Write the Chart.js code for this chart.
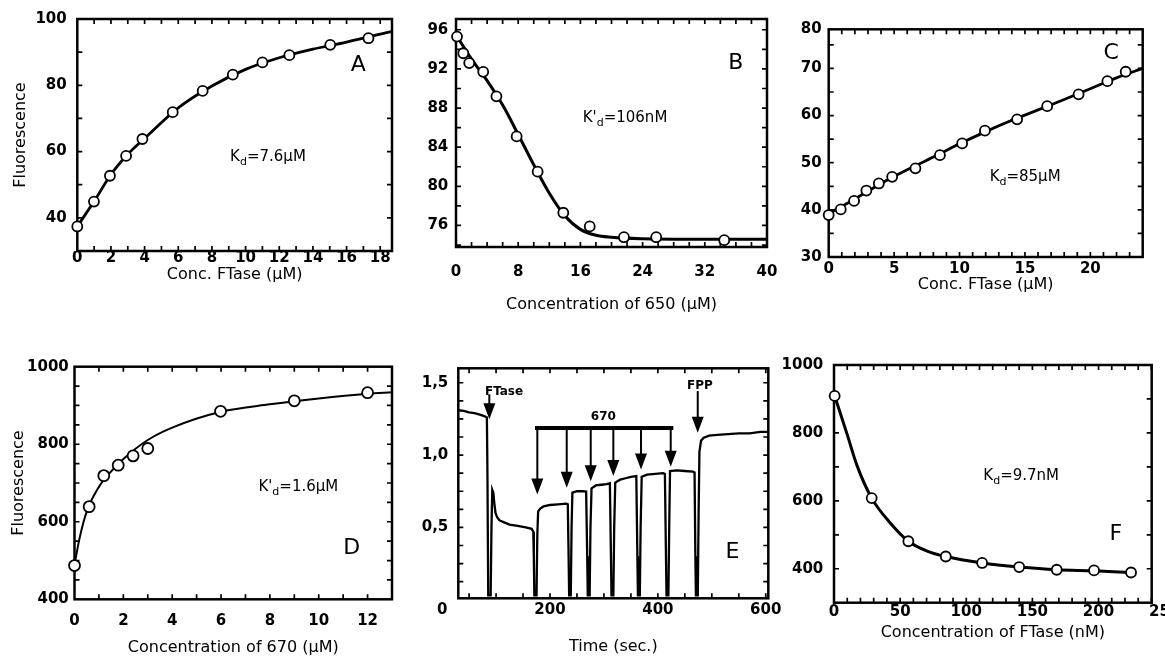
<!DOCTYPE html>
<html>
<head>
<meta charset="utf-8">
<script src="https://cdn.jsdelivr.net/npm/chart.js@4.4.1/dist/chart.umd.min.js"></script>
<style>
  html, body { margin: 0; padding: 0; background: #fff; overflow: hidden; }
  canvas { position: absolute; left: 0; top: 0; }
</style>
</head>
<body>
<canvas id="panelA" width="1165" height="656"></canvas>
<canvas id="panelB" width="1165" height="656"></canvas>
<canvas id="panelC" width="1165" height="656"></canvas>
<canvas id="panelD" width="1165" height="656"></canvas>
<canvas id="panelE" width="1165" height="656"></canvas>
<canvas id="panelF" width="1165" height="656"></canvas>
<script>
// A: FTase titration
const aConc = [0, 0.99, 1.94, 2.9, 3.87, 5.67, 7.45, 9.24, 11.0, 12.6, 15.03, 17.3];
const aFluor = [37.4, 44.9, 52.7, 58.7, 63.8, 71.9, 78.3, 83.2, 86.9, 89.1, 92.2, 94.2];
const aFitConc = [0, 1, 2, 3, 4, 6, 8, 10, 12, 14, 16, 18.7];
const aFitFluor = [37.4, 45.0, 53.1, 59.2, 64.0, 73.2, 79.8, 84.8, 88.3, 90.9, 93.05, 96.3];

// B: displacement by 650
const bConc = [0.13, 0.94, 1.7, 3.5, 5.2, 7.8, 10.5, 13.8, 17.2, 21.6, 25.75, 34.5];
const bFluor = [95.3, 93.6, 92.6, 91.7, 89.2, 85.1, 81.5, 77.3, 75.9, 74.8, 74.8, 74.5];
const bFitConc = [0, 2, 4, 6, 8, 10, 12, 14, 16, 18, 20, 24, 30, 40];
const bFitFluor = [95.5, 93.0, 90.8, 88.3, 85.3, 82.2, 79.3, 77.0, 75.6, 75.0, 74.8, 74.65, 74.6, 74.6];

// C: FTase titration, weak binder
const cConc = [0, 0.92, 1.94, 2.88, 3.83, 4.85, 6.63, 8.5, 10.2, 11.94, 14.4, 16.7, 19.1, 21.3, 22.7];
const cFluor = [38.9, 40.1, 41.9, 44.1, 45.6, 47.0, 48.8, 51.6, 54.1, 56.8, 59.2, 62.0, 64.5, 67.3, 69.3];
const cFitConc = [0, 2, 4, 6, 8, 10, 12, 14, 16, 18, 20, 22, 24];
const cFitFluor = [39.2, 42.3, 45.6, 48.5, 51.2, 54.0, 56.6, 59.0, 61.2, 63.4, 65.7, 68.0, 70.0];

// D: titration with 670
const dConc = [0, 0.6, 1.2, 1.79, 2.4, 3.0, 5.98, 9.0, 12.0];
const dFluor = [487, 639, 719, 746, 770, 789, 885, 912, 933];
const dFitConc = [0, 0.22, 0.5, 1, 1.5, 2, 3, 4, 6, 8, 10, 12, 13];
const dFitFluor = [490, 561, 626, 690, 730, 762, 811, 843, 884, 903, 918, 930, 934];

// E: time trace (each addition gives a short dip to the baseline)
const eTime = [30, 40, 50, 60, 70, 78, 83,
  84, 85.5, 90, 91.5, 93, 95, 97, 99, 102, 106, 115, 125, 140, 155, 166, 169,
  170, 171, 175, 176.5, 178, 182, 188, 200, 215, 230, 233,
  234.5, 235.5, 238.5, 240, 241.5, 250, 260, 267,
  269, 270, 273.5, 275, 277, 285, 295, 305, 311,
  313, 314, 317.5, 319, 321, 330, 340, 350, 360,
  362, 363, 366.5, 368, 370, 380, 395, 410, 413,
  415, 416, 419.5, 421, 422.5, 435, 450, 465, 468,
  469.5, 470.5, 474, 475.5, 477, 480, 485, 495, 510, 530, 550, 570, 590, 604.7];
const eSignal = [1.31, 1.305, 1.295, 1.29, 1.28, 1.27, 1.26,
  0.88, 0.03, 0.03, 0.5, 0.76, 0.74, 0.66, 0.6, 0.57, 0.55, 0.535, 0.52, 0.51, 0.5, 0.49, 0.47,
  0.3, 0.03, 0.03, 0.45, 0.61, 0.63, 0.645, 0.655, 0.66, 0.665, 0.66,
  0.3, 0.03, 0.03, 0.5, 0.74, 0.75, 0.75, 0.748,
  0.3, 0.03, 0.03, 0.5, 0.77, 0.79, 0.795, 0.8, 0.805,
  0.3, 0.03, 0.03, 0.5, 0.81, 0.83, 0.84, 0.85, 0.855,
  0.3, 0.03, 0.03, 0.5, 0.85, 0.865, 0.87, 0.875, 0.87,
  0.3, 0.03, 0.03, 0.5, 0.89, 0.895, 0.89, 0.885, 0.88,
  0.3, 0.03, 0.03, 0.6, 1.02, 1.1, 1.12, 1.135, 1.14, 1.145, 1.15, 1.15, 1.16, 1.16];

// F: FTase titration, tight binder
const fConc = [0.5, 28.5, 56.2, 84.5, 112, 140, 168.4, 196.6, 224.6];
const fFluor = [909, 608, 481, 436, 417, 405, 397, 395, 389];
const fFitConc = [0.5, 10, 17.5, 28.5, 42.7, 56.2, 70.4, 84.5, 112, 140, 168.4, 196.6, 224.6];
const fFitFluor = [909, 795, 703, 608, 534, 481, 452, 436, 417, 405, 397, 394, 389];

// tick labels
const aLabelsX = [0, 2, 4, 6, 8, 10, 12, 14, 16, 18];
const aLabelsY = [40, 60, 80, 100];
const bLabelsX = [0, 8, 16, 24, 32, 40];
const bLabelsY = [76, 80, 84, 88, 92, 96];
const cLabelsX = [0, 5, 10, 15, 20];
const cLabelsY = ['30', '40', '50', '60', '70', '80'];
const dLabelsX = [0, 2, 4, 6, 8, 10, 12];
const dLabelsY = [400, 600, 800, 1000];
const eLabelsX = [0, 200, 400, 600];
const eLabelsY = ['0,5', '1,0', '1,5'];
const fLabelsX = [0, 50, 100, 150, 200, 250];
const fLabelsY = [400, 600, 800, 1000];

const W = 1165, H = 656;
const FONT = '"DejaVu Sans", sans-serif';

function steps(from, to, step) {
  const out = [];
  for (let v = from; v <= to + step / 1000; v += step) out.push(+v.toFixed(4));
  return out;
}

function xy(xs, ys) {
  return xs.map((x, i) => ({ x: x, y: ys[i] }));
}

function axis(ax, dir, box) {
  return {
    type: 'linear',
    position: dir === 'x' ? 'bottom' : 'left',
    min: ax.min,
    max: ax.max,
    grid: { display: false, drawTicks: false },
    border: { display: false },
    ticks: {
      autoSkip: false, maxRotation: 0, minRotation: 0,
      padding: ax.pad, color: '#000',
      font: { family: FONT, size: 15, weight: 'bold' },
      callback: (v) => {
        const i = ax.at.findIndex(a => Math.abs(a - v) < 1e-6);
        return i < 0 ? '' : String(ax.text[i]);
      }
    },
    title: ax.title ? {
      display: true, text: ax.title, color: '#000',
      font: { family: FONT, size: 16 },
      padding: dir === 'x' ? { top: 0, bottom: ax.titlePad } : { top: ax.titlePad, bottom: 0 }
    } : { display: false },
    afterBuildTicks: (s) => { s.ticks = ax.ticks.map(v => ({ value: v })); },
    afterFit: (s) => {
      if (dir === 'x') s.height = H - box.b; else s.width = box.l;
      s.paddingLeft = 0; s.paddingRight = 0; s.paddingTop = 0; s.paddingBottom = 0;
    }
  };
}

function drawNote(ctx, chart, n) {
  const px = chart.scales.x.getPixelForValue(n.x);
  const py = chart.scales.y.getPixelForValue(n.y);
  const weight = n.bold ? 'bold ' : '';
  const subSize = Math.round(n.size * 0.75);
  let total = 0;
  for (const [s, sub] of n.parts) {
    ctx.font = weight + (sub ? subSize : n.size) + 'px ' + FONT;
    total += ctx.measureText(s).width;
  }
  let cx = n.align === 'center' ? px - total / 2 : px;
  ctx.textAlign = 'left';
  ctx.textBaseline = 'middle';
  ctx.fillStyle = '#000';
  for (const [s, sub] of n.parts) {
    ctx.font = weight + (sub ? subSize : n.size) + 'px ' + FONT;
    ctx.fillText(s, cx, sub ? py + n.size * 0.35 : py);
    cx += ctx.measureText(s).width;
  }
}

// box frame, inward ticks on all sides, then labels and arrows on top
function framePlugin(notes) {
  return {
    id: 'frame',
    beforeDatasetsDraw(chart) {
      const { ctx, chartArea: a, scales: { x, y } } = chart;
      const len = 5;
      ctx.save();
      ctx.strokeStyle = '#000';
      ctx.lineWidth = 1.7;
      ctx.beginPath();
      for (const t of x.ticks) {
        if (t.value <= x.min || t.value >= x.max) continue;
        const p = x.getPixelForValue(t.value);
        ctx.moveTo(p, a.bottom); ctx.lineTo(p, a.bottom - len);
        ctx.moveTo(p, a.top); ctx.lineTo(p, a.top + len);
      }
      for (const t of y.ticks) {
        if (t.value <= y.min || t.value >= y.max) continue;
        const p = y.getPixelForValue(t.value);
        ctx.moveTo(a.left, p); ctx.lineTo(a.left + len, p);
        ctx.moveTo(a.right, p); ctx.lineTo(a.right - len, p);
      }
      ctx.stroke();
      ctx.lineWidth = 2.5;
      ctx.strokeRect(a.left, a.top, a.right - a.left, a.bottom - a.top);
      ctx.restore();
    },
    afterDatasetsDraw(chart) {
      const { ctx, scales: { x, y } } = chart;
      ctx.save();
      ctx.strokeStyle = '#000';
      ctx.fillStyle = '#000';
      for (const b of notes.bars || []) {
        ctx.lineWidth = 4;
        ctx.beginPath();
        ctx.moveTo(x.getPixelForValue(b.x1), y.getPixelForValue(b.y));
        ctx.lineTo(x.getPixelForValue(b.x2), y.getPixelForValue(b.y));
        ctx.stroke();
      }
      for (const ar of notes.arrows || []) {
        const px = x.getPixelForValue(ar.x);
        const p0 = y.getPixelForValue(ar.from);
        const p1 = y.getPixelForValue(ar.to);
        ctx.lineWidth = 2;
        ctx.beginPath();
        ctx.moveTo(px, p0);
        ctx.lineTo(px, p1 - 10);
        ctx.stroke();
        ctx.beginPath();
        ctx.moveTo(px - 6, p1 - 16);
        ctx.lineTo(px + 6, p1 - 16);
        ctx.lineTo(px, p1);
        ctx.closePath();
        ctx.fill();
      }
      for (const n of notes.texts || []) drawNote(ctx, chart, n);
      ctx.restore();
    }
  };
}

function panel(id, box, xAx, yAx, datasets, notes) {
  new Chart(document.getElementById(id), {
    type: 'scatter',
    data: { datasets: datasets },
    options: {
      responsive: false,
      animation: false,
      devicePixelRatio: 1,
      events: [],
      layout: { padding: { left: 0, top: box.t, right: W - box.r, bottom: 0 } },
      plugins: { legend: { display: false }, tooltip: { enabled: false } },
      scales: { x: axis(xAx, 'x', box), y: axis(yAx, 'y', box) }
    },
    plugins: [framePlugin(notes)]
  });
}

function points(xs, ys, r) {
  return {
    data: xy(xs, ys), showLine: false, order: 0, clip: false,
    pointRadius: r, pointBackgroundColor: '#fff',
    pointBorderColor: '#000', pointBorderWidth: 1.8
  };
}

function curve(xs, ys, w) {
  return {
    data: xy(xs, ys), showLine: true, order: 1,
    borderColor: '#000', borderWidth: w, pointRadius: 0,
    cubicInterpolationMode: 'monotone'
  };
}

function kd(x, y, parts) {
  return { x: x, y: y, parts: parts, size: 15, align: 'left' };
}

function letter(x, y, t) {
  return { x: x, y: y, parts: [[t]], size: 22, align: 'center' };
}

panel('panelA', { l: 77.3, t: 19, r: 392, b: 251 },
  { min: 0, max: 18.7, ticks: steps(0, 18, 1), at: aLabelsX, text: aLabelsX, pad: -2,
    title: 'Conc. FTase (\u00b5M)', titlePad: 372 },
  { min: 30, max: 100, ticks: steps(30, 100, 10), at: aLabelsY, text: aLabelsY, pad: 10.6,
    title: 'Fluorescence', titlePad: 11.4 },
  [points(aConc, aFluor, 5), curve(aFitConc, aFitFluor, 2.8)],
  { texts: [kd(9.08, 58.4, [['K'], ['d', true], ['=7.6\u00b5M']]), letter(16.7, 86, 'A')] });

panel('panelB', { l: 456, t: 19, r: 767, b: 247 },
  { min: 0, max: 40, ticks: steps(0, 40, 2), at: bLabelsX, text: bLabelsX, pad: 16.4,
    title: 'Concentration of 650 (\u00b5M)', titlePad: 341.4 },
  { min: 73.8, max: 97.1, ticks: steps(74, 96, 2), at: bLabelsY, text: bLabelsY, pad: 7.7 },
  [points(bConc, bFluor, 5), curve(bFitConc, bFitFluor, 3)],
  { texts: [kd(16.3, 87, [["K'"], ['d', true], ['=106nM']]), letter(36, 92.6, 'B')] });

panel('panelC', { l: 828.7, t: 29.3, r: 1142.7, b: 257 },
  { min: 0, max: 24, ticks: steps(0, 24, 1), at: cLabelsX, text: cLabelsX, pad: 3.4,
    title: 'Conc. FTase (\u00b5M)', titlePad: 361.4 },
  { min: 30, max: 78.3, ticks: steps(30, 75, 5).concat([78.3]), at: [30, 40, 50, 60, 70, 78.3],
    text: cLabelsY, pad: 7 },
  [points(cConc, cFluor, 5), curve(cFitConc, cFitFluor, 2.8)],
  { texts: [kd(12.3, 47, [['K'], ['d', true], ['=85\u00b5M']]), letter(21.6, 73.3, 'C')] });

panel('panelD', { l: 74.5, t: 366.7, r: 392, b: 599.3 },
  { min: 0, max: 13, ticks: steps(0, 13, 1), at: dLabelsX, text: dLabelsX, pad: 13,
    title: 'Concentration of 670 (\u00b5M)', titlePad: -1.1 },
  { min: 400, max: 1000, ticks: steps(400, 1000, 50), at: dLabelsY, text: dLabelsY, pad: 5.7,
    title: 'Fluorescence', titlePad: 8.9 },
  [points(dConc, dFluor, 5.5), curve(dFitConc, dFitFluor, 2)],
  { texts: [kd(7.53, 690, [["K'"], ['d', true], ['=1.6\u00b5M']]), letter(11.35, 532, 'D')] });

panel('panelE', { l: 458.3, t: 368.3, r: 768.3, b: 598.3 },
  { min: 30, max: 604.7, ticks: steps(0, 600, 50), at: eLabelsX, text: eLabelsX, pad: 2.6,
    title: 'Time (sec.)', titlePad: -0.1 },
  { min: 0.01, max: 1.6, ticks: steps(0.125, 1.5, 0.125), at: [0.5, 1, 1.5], text: eLabelsY, pad: 10 },
  [{ data: xy(eTime, eSignal), showLine: true, borderColor: '#000', borderWidth: 2.3,
     pointRadius: 0, tension: 0 }],
  {
    texts: [
      letter(538.4, 0.326, 'E'),
      { x: 114.8, y: 1.438, parts: [['FTase']], size: 12, bold: true, align: 'center' },
      { x: 298.9, y: 1.265, parts: [['670']], size: 12, bold: true, align: 'center' },
      { x: 478, y: 1.476, parts: [['FPP']], size: 12, bold: true, align: 'center' }
    ],
    bars: [{ x1: 172.2, x2: 428.6, y: 1.187 }],
    arrows: [
      { x: 87.5, from: 1.42, to: 1.247 },
      { x: 176.5, from: 1.187, to: 0.728 },
      { x: 231, from: 1.187, to: 0.774 },
      { x: 275.5, from: 1.187, to: 0.82 },
      { x: 317.4, from: 1.187, to: 0.855 },
      { x: 368.7, from: 1.187, to: 0.9 },
      { x: 423.8, from: 1.187, to: 0.92 },
      { x: 473.9, from: 1.443, to: 1.155 }
    ]
  });

panel('panelF', { l: 834, t: 365, r: 1151.7, b: 602.7 },
  { min: 0, max: 240.2, ticks: steps(0, 250, 10), at: fLabelsX, text: fLabelsX, pad: 0.2,
    title: 'Concentration of FTase (nM)', titlePad: 13.4 },
  { min: 300, max: 1000, ticks: steps(300, 1000, 100), at: fLabelsY, text: fLabelsY, pad: 10.7 },
  [points(fConc, fFluor, 5), curve(fFitConc, fFitFluor, 3)],
  { texts: [kd(112.9, 674, [['K'], ['d', true], ['=9.7nM']]), letter(213, 501, 'F')] });
</script>
</body>
</html>
